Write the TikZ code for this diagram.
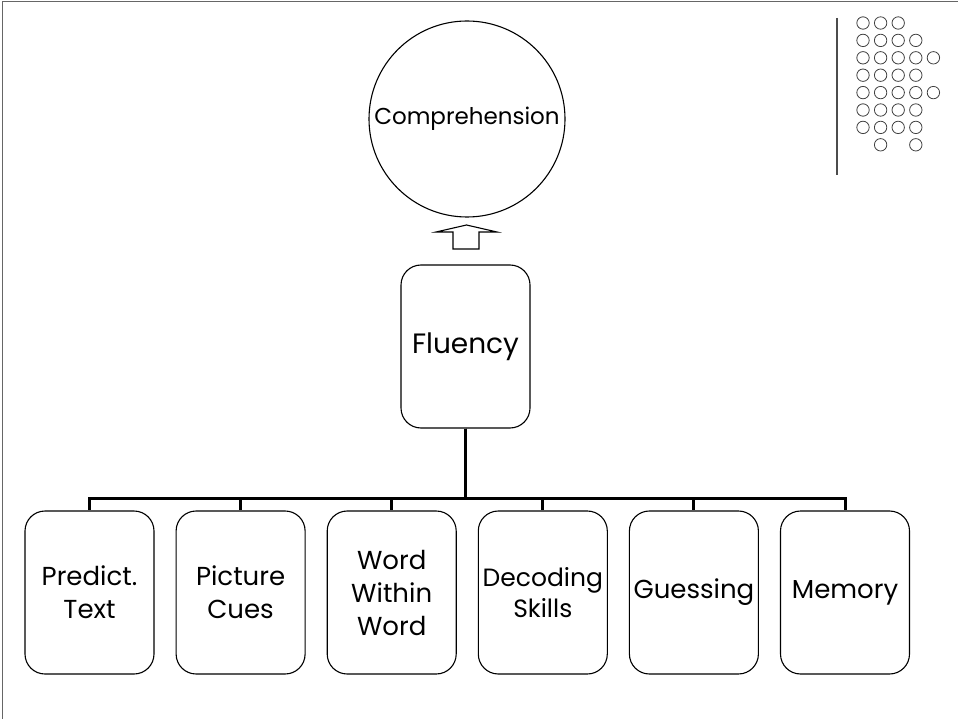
\documentclass[tikz,border=0pt]{standalone}
\usepackage{fontspec}
\setmainfont{Poppins}
\usetikzlibrary{positioning}

\begin{document}
\begin{tikzpicture}[%
x=1pt, y=-1pt,
box/.style={rectangle, draw, rounded corners=20pt, line width=1.1pt,
  minimum width=129pt, minimum height=163pt, inner sep=0pt, align=center,
  font=\fontsize{26}{33}\selectfont},
tree/.style={line width=3pt, line join=miter},
dot/.style={draw=black!75, line width=0.8pt}
]
\useasboundingbox (0,0) rectangle (958,719);
\draw[black!60, line width=1.6pt] (2.5,719) -- (2.5,1.5) -- (958,1.5);
\draw[black!70, line width=1.2pt] (837,18) -- (837,175);
\foreach \cols [count=\r] in {{1,2,3},{1,2,3,4},{1,2,3,4,5},{1,2,3,4},{1,2,3,4,5},{1,2,3,4},{1,2,3,4},{2,4}}
  \foreach \c in \cols
    \draw[dot] ({863+17.6*(\c-1)},{23+17.4*(\r-1)}) circle (6.2pt);
\node[circle, draw, line width=1.1pt, minimum size=196pt, inner sep=0pt,
  font=\fontsize{23}{28}\selectfont] (0) at (467,119) {Comprehension};
\node[box, font=\fontsize{28}{34}\selectfont] (1) at (465.5,346.5) {Fluency};
\node[box] (2) at (89.5,592.5) {Predict.\\Text};
\node[box] (3) [right=21pt of 2] {Picture\\Cues};
\node[box] (4) [right=21pt of 3] {Word\\Within\\Word};
\node[box, font=\fontsize{25}{31}\selectfont] (5) [right=21pt of 4] {Decoding\\Skills};
\node[box] (6) [right=21pt of 5] {Guessing};
\node[box] (7) [right=21pt of 6] {Memory};
\draw[line width=1.1pt, line join=miter] (453,249) -- (453,232) -- (436,232) -- (466.5,225)
  -- (497,232) -- (479,232) -- (479,249) -- cycle;
\foreach \n in {2,...,7}
  \draw[tree] (1.south) -- ++(0,70) -| (\n.north);
\end{tikzpicture}
\end{document}
